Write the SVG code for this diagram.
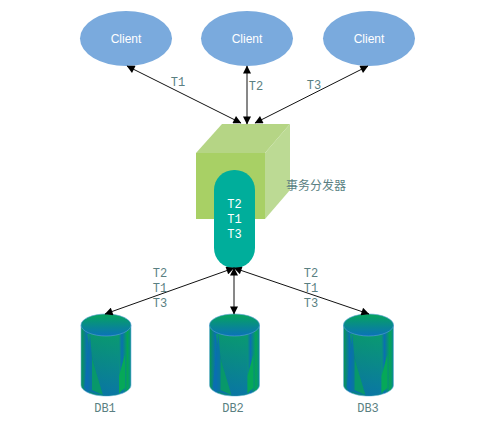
<svg xmlns="http://www.w3.org/2000/svg" width="486" height="421" viewBox="0 0 486 421">
<style>
.c{font:12px "Liberation Sans",sans-serif;fill:#fff;text-anchor:middle}
.t{font:12px "Liberation Mono","Noto Sans CJK SC",monospace;fill:#5a7f82;text-anchor:middle}
.w{fill:#fff}
.e{fill:#7aaadd}
.l{stroke:#111;stroke-width:1;fill:none;marker-start:url(#a);marker-end:url(#a)}
</style>
<defs>
<marker id="a" viewBox="0 0 10 10" refX="9.5" refY="5" markerWidth="9" markerHeight="8" markerUnits="userSpaceOnUse" orient="auto-start-reverse"><path d="M0 0L10 5L0 10Z" fill="#000"/></marker>
<linearGradient id="body" x1="0" y1="0" x2="1" y2="0"><stop offset="0" stop-color="#08984f"/><stop offset=".12" stop-color="#0a70b0"/><stop offset=".2" stop-color="#078a70"/><stop offset=".75" stop-color="#0a9a70"/><stop offset=".82" stop-color="#0a70b0"/><stop offset=".93" stop-color="#05a555"/><stop offset="1" stop-color="#0a8a90"/></linearGradient>
<linearGradient id="inner" x1="0" y1="0" x2="0" y2="1"><stop offset="0" stop-color="#0a9a70"/><stop offset="1" stop-color="#0a6cb5"/></linearGradient>
<linearGradient id="top" x1="0" y1="0" x2="0" y2="1"><stop offset="0" stop-color="#06a45c"/><stop offset="1" stop-color="#0a72b8"/></linearGradient>
<g id="cyl">
<path d="M0 11V71C0 77 11 82 25 82S50 77 50 71V11Z" fill="url(#body)" stroke="#6db0e0" stroke-width=".6"/>
<path d="M6 20L38 20V80Q25 83 20 81Z" fill="url(#inner)" opacity=".75"/>
<path d="M11 44L22 81Q10 80 3 74L9 20Z" fill="#0a6cb5" opacity=".7"/>
<path d="M11 44L22 81L11 76Z" fill="#08986a"/>
<path d="M38 62L44 40V74L38 79Z" fill="#06a858"/>
<ellipse cx="25" cy="11" rx="25" ry="11" fill="url(#top)" stroke="#5aa0dc" stroke-width=".6"/>
</g>
</defs>
<rect width="486" height="421" fill="#fff"/>
<g id="client1"><ellipse class="e" cx="126" cy="38.5" rx="46" ry="27.5"/><text class="c" x="126" y="43">Client</text></g>
<g id="client2"><ellipse class="e" cx="247" cy="38.5" rx="46" ry="27.5"/><text class="c" x="247" y="43">Client</text></g>
<g id="client3"><ellipse class="e" cx="369" cy="38.5" rx="46" ry="27.5"/><text class="c" x="369" y="43">Client</text></g>
<g id="dispatcher">
<path d="M196 153L222 124H290L265 153Z" fill="#b5d585"/>
<path d="M265 153L290 124V190L265 219Z" fill="#bcda94"/>
<rect x="196" y="153" width="69" height="66" fill="#a8d065"/>
<rect x="214" y="170" width="41" height="98" rx="20" ry="20" fill="#00ae9b"/>
<text class="t w" style="fill:#fff" x="234.500" y="208">T2</text>
<text class="t w" style="fill:#fff" x="234.500" y="223">T1</text>
<text class="t w" style="fill:#fff" x="234.500" y="238">T3</text>
<text class="t" x="316" y="190">事务分发器</text>
</g>
<g id="db1"><use href="#cyl" x="81" y="314"/><text class="t" x="105" y="412">DB1</text></g>
<g id="db2"><use href="#cyl" x="209.500" y="314"/><text class="t" x="233" y="412">DB2</text></g>
<g id="db3"><use href="#cyl" x="343.500" y="314"/><text class="t" x="368" y="412">DB3</text></g>
<g id="connectors">
<path class="l" d="M127 66L241 123"/>
<path class="l" d="M247 66V124"/>
<path class="l" d="M368 66L255 123"/>
<path class="l" d="M234 268L105 314"/>
<path class="l" d="M234 268V314"/>
<path class="l" d="M234 268L369 314"/>
</g>
<g id="labels">
<text class="t" x="178" y="86">T1</text>
<text class="t" x="256" y="90">T2</text>
<text class="t" x="314" y="89">T3</text>
<text class="t" x="160" y="277">T2</text><text class="t" x="160" y="292">T1</text><text class="t" x="160" y="307">T3</text>
<text class="t" x="311" y="277">T2</text><text class="t" x="311" y="292">T1</text><text class="t" x="311" y="307">T3</text>
</g>
</svg>
